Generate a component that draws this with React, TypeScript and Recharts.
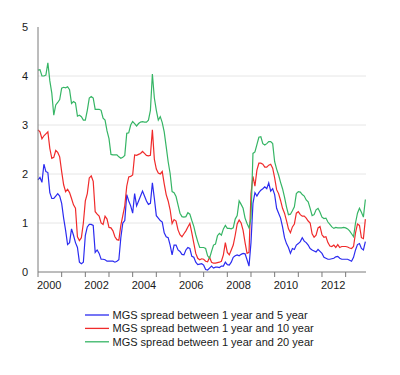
import { CartesianGrid, Line, LineChart, XAxis, YAxis } from "recharts";

// monthly observations, Jan 2000 onwards
const spread5 = [
  1.88, 1.93, 1.83, 2.2, 2.05, 2.03, 1.62, 1.5, 1.5, 1.55, 1.6, 1.55,
  1.4, 1.1, 0.85, 0.56, 0.6, 0.88, 0.75, 0.6, 0.5, 0.2, 0.17, 0.2,
  0.75, 0.92, 0.97, 0.97, 0.95, 0.4, 0.45, 0.38, 0.26, 0.26, 0.25, 0.22,
  0.22, 0.22, 0.22, 0.2, 0.22, 0.25, 0.7, 1.0, 1.05, 1.58, 1.45, 1.35,
  1.2, 1.6, 1.35, 1.45, 1.55, 1.65, 1.55, 1.45, 1.38, 1.4, 1.82, 1.5,
  1.15, 1.1, 1.05, 1.02, 0.8, 0.72, 0.7, 0.55, 0.35, 0.55, 0.55, 0.45,
  0.42, 0.36, 0.35, 0.45, 0.5, 0.48, 0.32, 0.3, 0.2, 0.15, 0.16, 0.17,
  0.14, 0.05, 0.04, 0.08, 0.12, 0.08, 0.1, 0.1, 0.09, 0.12, 0.12, 0.2,
  0.15, 0.14, 0.2, 0.3, 0.33, 0.35, 0.33, 0.36, 0.38, 0.37, 0.25, 0.12,
  0.6, 1.4, 1.62, 1.55, 1.62, 1.67, 1.7, 1.74, 1.7, 1.82, 1.65, 1.7,
  1.58, 1.3, 1.2, 1.1, 0.92, 0.7, 0.58, 0.5, 0.38, 0.48, 0.46, 0.55,
  0.58, 0.62, 0.7, 0.63, 0.6, 0.55, 0.48, 0.45, 0.43, 0.41, 0.46, 0.42,
  0.38, 0.3, 0.28, 0.26, 0.26, 0.27, 0.28, 0.31, 0.32, 0.28, 0.26, 0.26,
  0.26, 0.26, 0.24, 0.22, 0.3, 0.45, 0.56, 0.58, 0.48, 0.45, 0.62,
];

const spread10 = [
  2.9, 2.86, 2.72, 2.78, 2.82, 2.86, 2.52, 2.32, 2.34, 2.48, 2.44, 2.35,
  2.05, 1.78, 1.64, 1.69, 1.62, 1.5, 1.37, 1.3, 0.72, 0.64, 0.7, 1.0,
  1.45, 1.6, 1.92, 1.96, 1.85, 1.23, 1.18, 1.14, 1.0, 0.97, 1.14, 1.08,
  0.91, 0.9, 0.84, 0.72, 0.66, 0.65, 0.95, 1.15, 1.35, 1.75, 1.94, 1.95,
  1.98, 2.39, 2.38, 2.4, 2.42, 2.46, 2.42, 2.38, 2.37, 2.38, 2.9, 2.3,
  2.1, 2.02, 2.0, 2.05, 1.8, 1.58, 1.45, 1.27, 0.99, 1.07, 1.04, 0.86,
  0.76, 0.72, 0.78, 0.84, 0.92, 0.99, 0.8, 0.59, 0.38, 0.28, 0.25, 0.27,
  0.26, 0.22, 0.21, 0.3, 0.2, 0.18, 0.18, 0.19, 0.2, 0.22, 0.35, 0.6,
  0.4, 0.35, 0.45, 0.55, 0.75, 0.98, 1.06, 1.0, 0.85, 0.6, 0.38, 0.4,
  1.6, 1.95, 1.75, 2.08, 2.22, 2.22, 2.2, 2.14, 2.14, 2.18, 2.2, 2.12,
  1.92, 1.68, 1.6, 1.46, 1.3, 1.2, 1.05, 0.88, 0.8, 0.92, 0.98, 1.2,
  1.23, 1.17, 1.14, 1.14, 1.1, 1.04, 1.0, 0.78, 0.71, 0.75, 0.9, 0.93,
  0.76, 0.71, 0.72, 0.6, 0.53, 0.52, 0.55, 0.5, 0.56, 0.5, 0.52, 0.52,
  0.52, 0.51, 0.49, 0.48, 0.52, 0.8, 0.98, 0.95, 0.7, 0.68, 1.08,
];

const spread20 = [
  4.12, 4.13, 4.0, 4.0, 4.02, 4.27, 3.9, 3.65, 3.2, 3.41, 3.46, 3.52,
  3.75, 3.77, 3.76, 3.78, 3.72, 3.44, 3.48, 3.45, 3.18, 3.2, 3.17, 3.1,
  3.1, 3.3, 3.55, 3.58, 3.55, 3.32, 3.32, 3.32, 3.3, 3.14, 3.1, 2.88,
  2.72, 2.4, 2.39, 2.39, 2.39, 2.35, 2.32, 2.34, 2.38, 2.83, 2.84, 3.0,
  3.07, 3.03, 2.98, 3.03, 3.06, 3.07, 3.06, 3.06, 3.1, 3.3, 4.04, 3.55,
  3.3, 3.1, 3.17, 3.05, 2.86, 2.56, 2.25, 2.01, 1.64, 1.62, 1.54, 1.37,
  1.2, 1.13, 1.12, 1.13, 1.21, 1.18, 1.05, 0.93, 0.76, 0.62, 0.5, 0.5,
  0.5, 0.48, 0.33, 0.28, 0.42, 0.55, 0.57, 0.74, 0.79, 0.75, 0.88, 0.95,
  0.89, 0.89, 0.88, 0.9, 1.08, 1.15, 1.45, 1.38, 1.3, 1.1, 0.99, 0.9,
  1.1, 2.42, 2.45, 2.6, 2.75, 2.76, 2.62, 2.59, 2.62, 2.66, 2.66, 2.62,
  2.25, 2.1, 1.98, 1.83, 1.7, 1.53, 1.33, 1.17, 1.18, 1.25, 1.33, 1.6,
  1.64, 1.63, 1.58, 1.55, 1.47, 1.43, 1.3, 1.15, 1.17, 1.27, 1.3, 1.22,
  1.12, 1.09, 1.1, 1.02, 0.97, 0.92, 0.89, 0.91, 0.9, 0.9, 0.9, 0.91,
  0.9, 0.88, 0.84, 0.78, 0.72, 1.0, 1.2, 1.3, 1.22, 1.12, 1.48,
];

const yearTicks = [
  2000, 2001, 2002, 2003, 2004, 2005, 2006, 2007, 2008, 2009, 2010, 2011,
  2012, 2013,
];
const valueTicks = [0, 1, 2, 3, 4, 5];

const series = [
  { key: "s5", name: "MGS spread between 1 year and 5 year", color: "#2b2bf0" },
  { key: "s10", name: "MGS spread between 1 year and 10 year", color: "#f02b2b" },
  { key: "s20", name: "MGS spread between 1 year and 20 year", color: "#36b565" },
];

const data = spread5.map((v, i) => ({
  t: 2000 + i / 12,
  s5: v,
  s10: spread10[i],
  s20: spread20[i],
}));

const font = "'Liberation Sans', Arial, sans-serif";

type TickProps = {
  x?: number;
  y?: number;
  payload?: { value?: number };
};

function YearTick({ x = 0, y = 0, payload }: TickProps) {
  const year = Number(payload?.value ?? 0);
  if (year % 2 !== 0) return <g />;
  return (
    <text x={x - 1} y={y} dy={10} textAnchor="start" fill="#1a1a1a" fontSize={11} fontFamily={font}>
      {year}
    </text>
  );
}

export default function App() {
  return (
    <div style={{ position: "absolute", left: 0, top: 0, width: 400, height: 375, background: "#fff" }}>
      <LineChart width={400} height={300} data={data} margin={{ top: 27, right: 34, bottom: 0, left: 0 }}>
        <CartesianGrid vertical={false} horizontalValues={[1, 2, 3, 4]} stroke="#e6e6e6" />
        <XAxis
          dataKey="t"
          type="number"
          domain={[2000, 2013.86]}
          ticks={yearTicks}
          height={28}
          tick={<YearTick />}
          tickSize={5}
          tickMargin={2}
          stroke="#7a7a7a"
          interval={0}
        />
        <YAxis
          domain={[0, 5]}
          ticks={valueTicks}
          width={38}
          tickLine={false}
          tickSize={0}
          tickMargin={10}
          stroke="#7a7a7a"
          tick={{ fill: "#1a1a1a", fontSize: 11, fontFamily: font }}
        />
        {series.map((s) => (
          <Line
            key={s.key}
            type="linear"
            dataKey={s.key}
            name={s.name}
            stroke={s.color}
            strokeWidth={1.2}
            dot={false}
            isAnimationActive={false}
          />
        ))}
      </LineChart>
      <svg width={400} height={75} style={{ display: "block" }}>
        {series.map((s, i) => (
          <g key={s.key}>
            <line x1={85} x2={109} y1={15 + i * 13.4} y2={15 + i * 13.4} stroke={s.color} strokeWidth={1.3} />
            <text x={112.5} y={15 + i * 13.4} dy="0.36em" fill="#1a1a1a" fontSize={11} fontFamily={font}>
              {s.name}
            </text>
          </g>
        ))}
      </svg>
    </div>
  );
}
